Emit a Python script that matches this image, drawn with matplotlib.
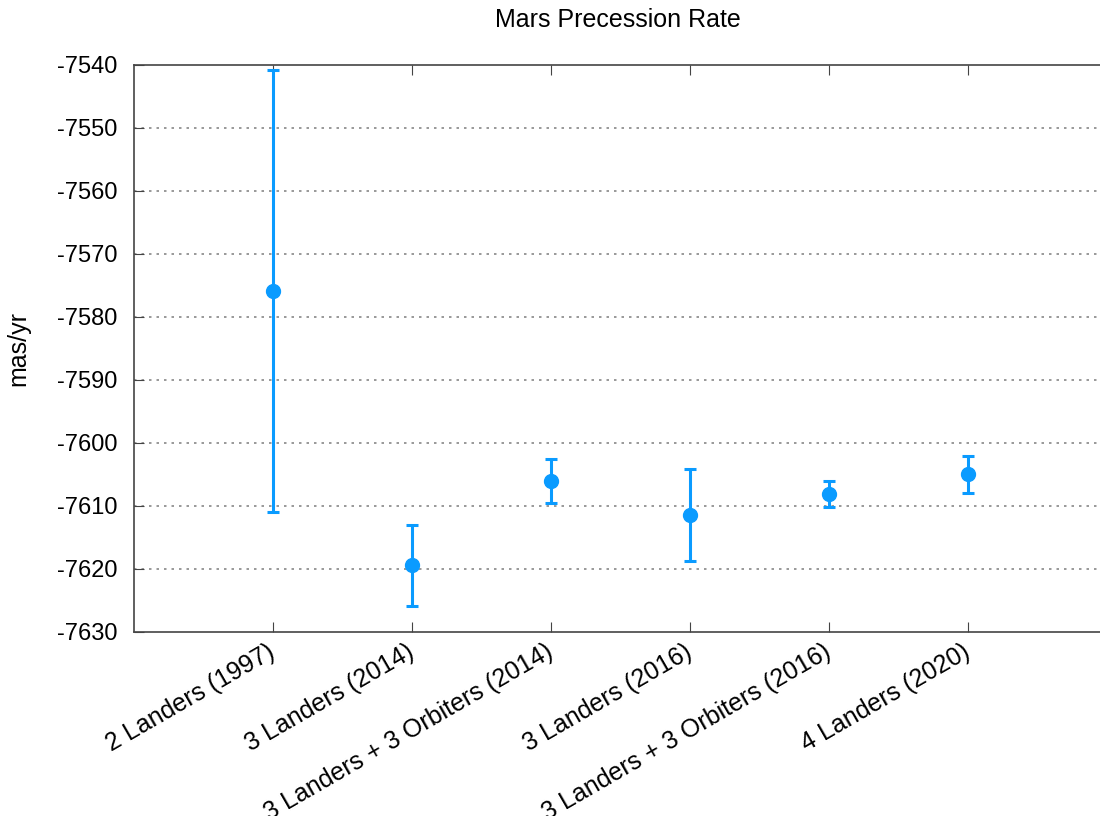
import matplotlib
matplotlib.use("Agg")
import matplotlib.pyplot as plt

# Mars precession rate estimates (mas/yr) with 1-sigma errors
labels = [
    "2 Landers (1997)",
    "3 Landers (2014)",
    "3 Landers + 3 Orbiters (2014)",
    "3 Landers (2016)",
    "3 Landers + 3 Orbiters (2016)",
    "4 Landers (2020)",
]
rates = [-7575.9, -7619.4, -7606.1, -7611.4, -7608.1, -7605.0]
errors = [35.1, 6.4, 3.5, 7.3, 2.1, 3.0]
positions = [1, 2, 3, 4, 5, 6]
yticks = [-7630, -7620, -7610, -7600, -7590, -7580, -7570, -7560, -7550, -7540]

plt.rcParams["font.family"] = ["Liberation Sans", "DejaVu Sans"]
plt.rcParams["axes.unicode_minus"] = False

W, H = 1100, 816
fig = plt.figure(figsize=(W / 100, H / 100), dpi=100)
# right border sits just past the image edge, like the reference
ax = fig.add_axes([134 / W, 1 - 632 / H, (1107 - 134) / W, (632 - 65) / H])

blue = "#0a9bff"
ax.errorbar(positions, rates, yerr=errors, fmt="o", color=blue, ecolor=blue,
            markersize=10, elinewidth=2.2, capsize=4, capthick=2.2, zorder=3)

ax.set_xlim(0, 7)
ax.set_ylim(-7630, -7540)
ax.set_yticks(yticks)
ax.set_xticks(positions)
ax.set_xticklabels(labels, rotation=30, ha="right", va="center",
                   rotation_mode="anchor", fontsize=18)
ax.tick_params(axis="x", direction="in", length=7, top=True, pad=13,
               color="#444444")
ax.tick_params(axis="y", direction="in", length=7, labelsize=17, pad=12,
               color="#444444")

for y in yticks[1:-1]:
    ax.axhline(y, color="#888888", linestyle=(0, (1.5, 3)), linewidth=1.2,
               zorder=1)

for spine in ax.spines.values():
    spine.set_color("#444444")
    spine.set_linewidth(1.2)

ax.set_ylabel("mas/yr", fontsize=18)
ax.yaxis.set_label_coords(-0.107, 0.5)

fig.text(618 / W, 1 - 20 / H, "Mars Precession Rate", fontsize=18,
         ha="center", va="center")

fig.savefig("out.png", dpi=100)
